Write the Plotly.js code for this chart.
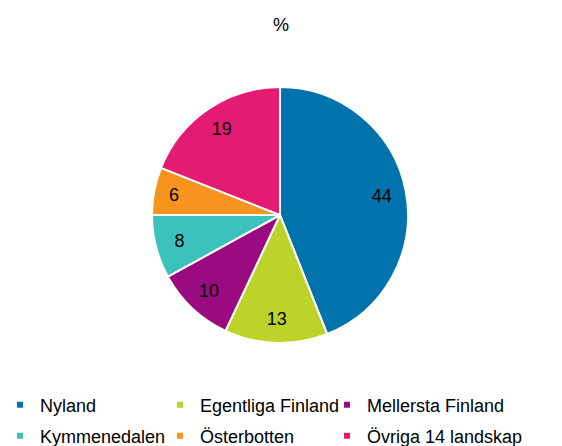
<!DOCTYPE html>
<html>
<head>
<meta charset="utf-8">
<script src="https://cdn.plot.ly/plotly-3.0.1.min.js"></script>
<style>html,body{margin:0;padding:0;background:#fff}#chart{width:562px;height:446px}</style>
</head>
<body>
<div id="chart"></div>
<script>
const labels = ["Nyland", "Egentliga Finland", "Mellersta Finland", "Kymmenedalen", "Österbotten", "Övriga 14 landskap"];
const values = [44, 13, 10, 8, 6, 19];
const colors = ["#0072AC", "#BCD32A", "#9A0A80", "#3CC2BC", "#F7941E", "#E31B72"];

const W = 562, H = 446;
const cx = 280, cy = 215, r = 128;
const FONT = "Liberation Sans, Arial, sans-serif";
const dom = { x: [(cx - r) / W, (cx + r) / W], y: [(H - cy - r) / H, (H - cy + r) / H] };

// filled pie (slices)
const pieFill = {
  type: "pie",
  labels: labels,
  values: values,
  sort: false,
  direction: "clockwise",
  rotation: 0,
  marker: { colors: colors, line: { color: "#ffffff", width: 2 } },
  textinfo: "none",
  showlegend: false,
  hoverinfo: "label+value",
  domain: dom
};
// transparent ring carrying the value labels out toward the rim
const pieText = {
  type: "pie",
  labels: labels,
  values: values,
  sort: false,
  direction: "clockwise",
  rotation: 0,
  hole: 0.62,
  marker: { colors: colors.map(() => "rgba(0,0,0,0)"), line: { width: 0 } },
  texttemplate: "%{value}",
  textinfo: "text",
  textposition: "inside",
  insidetextorientation: "horizontal",
  insidetextfont: { color: "#000000", size: 18, family: FONT },
  showlegend: false,
  hoverinfo: "skip",
  domain: dom
};

// legend entries (one per slice), split over two legend rows
const colWidths = [115, 122, 175];
const legendTraces = labels.map((lab, i) => ({
  type: "scatter",
  mode: "markers",
  x: [null], y: [null],
  name: lab,
  marker: { symbol: "square", size: 6, color: colors[i] },
  legend: i < 3 ? "legend" : "legend2",
  legendwidth: colWidths[i % 3],
  hoverinfo: "skip"
}));

const legendBase = {
  orientation: "h",
  xanchor: "left",
  yanchor: "middle",
  font: { size: 18, color: "#000000", family: FONT },
  bgcolor: "rgba(0,0,0,0)",
  borderwidth: 0,
  traceorder: "normal"
};

const layout = {
  width: W, height: H,
  margin: { l: 0, r: 0, t: 0, b: 0, autoexpand: false },
  paper_bgcolor: "#ffffff",
  plot_bgcolor: "rgba(0,0,0,0)",
  font: { family: FONT, color: "#000000", size: 18 },
  title: { text: "%", x: 0.5, xanchor: "center", y: (H - 25) / H, yanchor: "middle", font: { size: 18, color: "#000000", family: FONT } },
  xaxis: { visible: false, fixedrange: true },
  yaxis: { visible: false, fixedrange: true },
  showlegend: true,
  legend: Object.assign({}, legendBase, { x: 0, y: (H - 405) / H }),
  legend2: Object.assign({}, legendBase, { x: 0, y: (H - 436) / H })
};

Plotly.newPlot("chart", [pieFill, pieText].concat(legendTraces), layout, { displayModeBar: false, staticPlot: true });
</script>
</body>
</html>
